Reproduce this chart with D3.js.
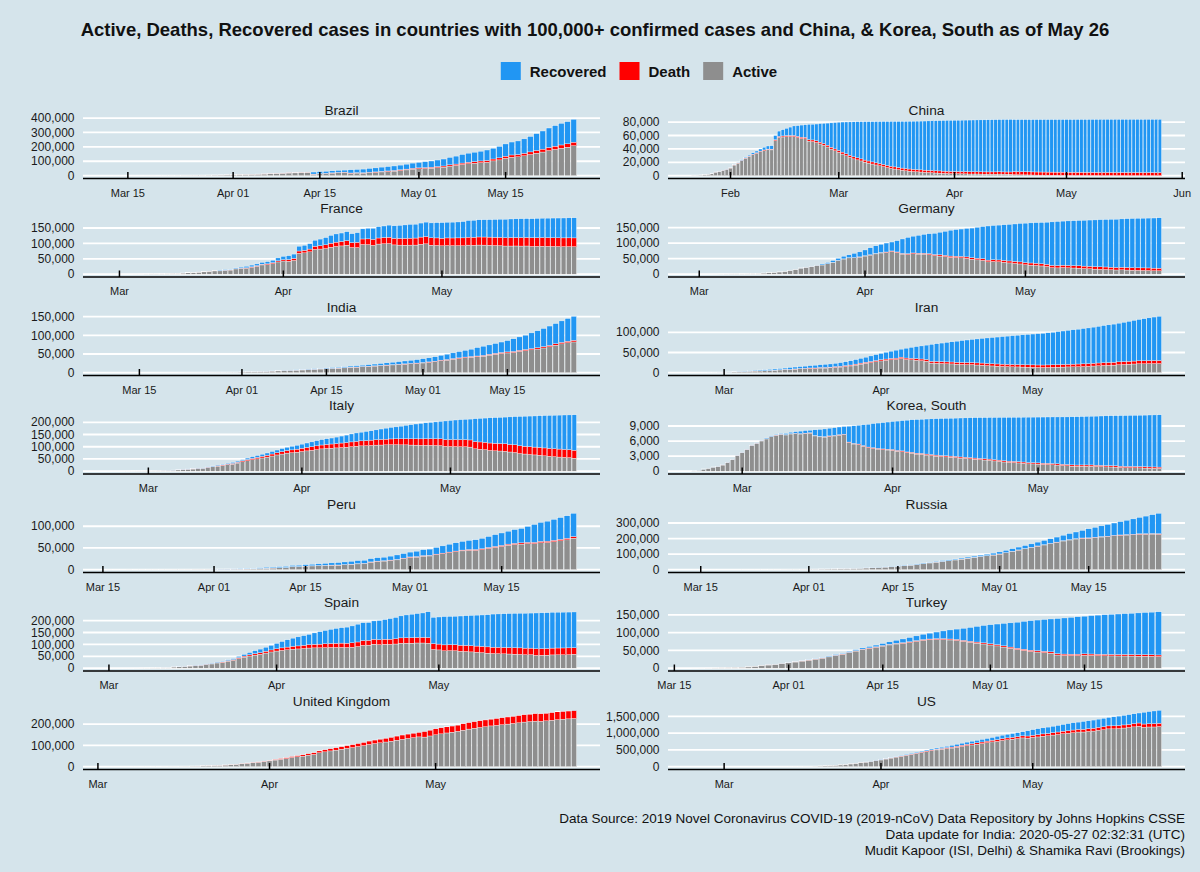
<!DOCTYPE html>
<html><head><meta charset="utf-8">
<script src="https://cdn.jsdelivr.net/npm/d3@7"></script>
<style>
html,body{margin:0;padding:0;background:#d5e4eb;}
svg{display:block;font-family:"Liberation Sans",Arial,Helvetica,sans-serif;}
</style></head><body>
<svg id="chart" width="1200" height="872"></svg>
<script>
// ---------------- DATA ----------------
const countries = ["Brazil","China","France","Germany","India","Iran","Italy","Korea, South","Peru","Russia","Spain","Turkey","United Kingdom","US"];
const lastDate = "2020-05-26";           // every series ends on this day (one value per day)
const valueUnits = [1000,1000,1000,1000,1000,1000,1000,1,1000,1000,1000,1000,1000,1000]; // values in thousands, Korea in cases
const seriesNames = ["Recovered","Death","Active"];

const brazilActive = [.05,.15,.15,.16,.2,.32,.37,.61,.78,1.0,1.5,1.9,2.2,2.5,2.9,3.3,3.8,4.1,4.4,5.5,
6.5,7.6,8.6,9.8,10.5,11.4,13.2,15.2,17.0,18.4,19.4,20.8,21.9,9.7,12.6,14.5,17.5,20.3,22.2,16.1,18.2,17.5,20.1,22.6,26.1,28.6,31.7,35.7,40.1,45.3,
47.8,49.5,51.9,55.4,59.4,66.6,71.4,77.6,82.8,86.5,90.6,93.2,102.7,109.7,120.5,128.2,131.0,138.1,147.1,156.0,164.1,174.4,182.8,190.6,197.6,208.1];
const brazilDeath = [0,0,0,0,0,.001,.003,.006,.011,.015,.025,.034,.046,.06,.08,.09,.11,.14,.16,.2,
.24,.32,.36,.45,.49,.56,.69,.82,.95,1.06,1.14,1.22,1.33,1.53,1.74,1.92,2.14,2.35,2.46,2.59,2.74,2.91,3.33,3.7,4.06,4.29,4.6,5.08,5.51,6.0,
6.41,6.75,7.05,7.37,7.92,8.59,9.19,10.02,10.66,11.12,11.65,12.4,13.15,13.99,14.82,15.63,16.12,16.85,17.98,18.86,20.05,21.05,22.01,22.67,23.47,24.51];
const brazilRecovered = [0,0,0,0,0,0,0,0,.002,.002,.002,.002,.002,.002,.006,.006,.006,.006,.006,.006,
.13,.13,.13,.13,.13,.13,.13,.13,.17,.17,.17,.17,.17,14.0,14.0,14.0,14.0,14.0,14.0,22.1,22.1,25.3,26.6,27.7,29.2,30.2,31.1,32.5,34.1,35.9,
38.0,40.9,42.9,45.8,48.2,51.4,55.2,59.3,62.6,65.1,67.4,72.6,74.3,79.5,84.97,89.7,94.0,100.5,106.8,116.7,125.96,135.4,142.6,149.9,153.8,158.6];

const chinaActive = [.5,.59,.86,1.33,1.96,2.74,5.28,5.84,7.83,9.37,
11.36,15.81,18.68,22.38,25.76,28.48,31.39,33.41,35.71,37.38,38.58,38.5,52.3,57.2,57.8,58.2,58.3,58.2,56.7,55.4,55.0,51.6,50.9,49.5,47.3,45.3,42.8,39.7,37.1,
34.8,32.3,29.8,27.3,25.1,23.6,22.0,20.2,18.8,17.4,16.0,14.8,13.6,12.1,10.8,9.9,9.0,8.1,7.3,6.7,6.2,5.8,5.4,5.0,4.7,4.4,4.0,3.8,3.5,3.3,3.1,
3.0,2.9,2.8,2.7,2.5,2.5,2.5,2.4,2.3,2.3,2.3,2.3,2.4,2.3,2.2,2.2,1.5,1.4,1.3,1.2,1.1,1.0,.9,.85,.8,.75,.7,.68,.65,.63,
.6,.56,.5,.47,.43,.4,.38,.35,.33,.3,.3,.3,.27,.25,.22,.2,.18,.16,.15,.14,.13,.12,.12,.11,.1,.1];
const chinaDeath = [.017,.018,.026,.042,.056,.082,.131,.133,.171,.213,
.259,.361,.425,.49,.562,.632,.717,.804,.904,1.011,1.111,1.116,1.368,1.381,1.524,1.666,1.772,1.87,2.006,2.121,2.239,2.348,2.445,2.595,2.666,2.718,2.747,2.791,2.838,
2.873,2.915,2.946,2.984,3.015,3.045,3.073,3.1,3.123,3.139,3.161,3.172,3.18,3.193,3.203,3.217,3.23,3.241,3.249,3.253,3.259,3.274,3.274,3.281,3.285,3.291,3.296,3.299,3.304,3.308,3.309,
3.316,3.322,3.326,3.33,3.333,3.335,3.335,3.337,3.339,3.34,3.343,3.343,3.345,3.345,3.346,3.346,4.636,4.636,4.636,4.636,4.636,4.636,4.636,4.636,4.636,4.636,4.636,4.636,4.637,4.637,
4.637,4.637,4.637,4.637,4.637,4.637,4.637,4.637,4.637,4.637,4.637,4.637,4.637,4.637,4.637,4.637,4.637,4.637,4.637,4.637,4.638,4.638,4.638,4.638,4.638,4.638];
const chinaRecovered = [.028,.03,.036,.039,.049,.058,.101,.12,.135,.214,
.275,.463,.614,.843,1.115,1.477,1.999,2.596,3.219,3.918,4.636,5.082,6.217,7.977,9.298,10.755,12.462,14.206,15.962,18.014,18.704,22.699,23.394,25.015,27.676,30.084,32.93,36.329,39.32,
42.162,44.854,47.45,50.001,52.292,53.944,55.539,57.388,58.804,60.181,61.644,62.901,64.196,65.66,67.017,67.91,68.798,69.755,70.535,71.266,71.857,72.362,72.814,73.28,73.773,74.181,74.72,75.1,75.582,75.923,76.206,
76.405,76.565,76.76,76.946,77.207,77.31,77.41,77.567,77.679,77.791,77.877,77.956,78.039,78.2,78.311,78.401,77.6,77.7,77.8,77.9,78.0,78.1,78.2,78.3,78.35,78.4,78.45,78.5,78.55,78.6,
78.65,78.7,78.75,78.8,78.85,78.9,78.95,79.0,79.05,79.1,79.12,79.15,79.2,79.23,79.26,79.28,79.3,79.32,79.33,79.34,79.35,79.36,79.37,79.38,79.39,79.4];

const franceActive = [.04,.09,
.12,.18,.19,.27,.36,.64,.94,1.1,1.19,1.75,2.23,2.23,3.59,4.4,4.43,6.52,7.55,8.87,10.59,10.72,12.31,13.36,17.06,18.24,19.32,22.15,25.7,30.06,30.86,34.18,39.79,
42.8,42.0,44.6,67.7,69.3,72.6,80.4,81.6,83.2,87.5,90.2,91.8,94.1,86.7,86.5,96.4,96.0,93.8,97.8,98.8,99.3,95.1,94.4,94.2,94.4,94.5,97.2,98.5,94.2,93.4,
92.2,93.0,92.7,92.7,92.4,94.4,93.9,94.6,94.4,94.0,93.1,92.7,91.4,91.4,91.6,91.3,91.5,90.1,90.4,90.8,90.4,90.1,89.8,89.5,89.5,89.3];
const franceDeath = [.002,.002,
.002,.003,.004,.004,.006,.009,.011,.019,.019,.033,.048,.048,.079,.091,.091,.149,.149,.244,.372,.451,.563,.676,.862,1.102,1.333,1.698,1.997,2.317,2.611,3.03,3.532,
4.04,5.39,6.51,7.57,8.09,8.92,10.34,10.89,12.21,13.2,13.83,14.39,14.97,15.73,17.17,17.92,18.68,19.32,19.72,20.27,20.8,21.34,21.86,22.25,22.61,22.86,23.29,23.66,24.09,24.38,
24.59,24.76,24.9,25.2,25.53,25.81,25.99,26.23,26.31,26.38,26.64,26.99,27.07,27.43,27.53,27.63,27.7,28.24,28.02,28.13,28.22,28.29,28.33,28.37,28.46,28.53];
const franceRecovered = [.011,.012,
.012,.012,.012,.012,.012,.012,.012,.012,.012,.012,.012,.012,.012,.012,.012,.012,.012,.012,.012,1.59,1.59,2.2,2.2,3.28,4.95,5.7,5.7,5.72,7.23,7.96,9.51,
10.93,12.55,14.14,15.57,16.35,17.43,19.34,21.45,23.41,25.2,26.66,27.47,28.81,28.96,30.95,32.81,34.42,35.98,36.6,37.41,39.18,40.66,42.09,43.49,44.59,44.9,45.51,46.89,48.23,49.48,
50.56,50.78,51.37,51.72,52.74,53.97,55.03,55.8,56.04,56.72,57.79,58.67,59.72,60.45,60.56,61.07,61.21,61.73,62.56,62.81,63.35,63.86,64.21,64.62,64.94,65.2];

const germanyActive = [.06,
.11,.14,.18,.25,.47,.65,.78,1.02,1.16,1.44,1.88,2.05,3.64,4.54,5.74,7.19,9.17,12.2,15.16,19.6,21.9,24.5,28.5,29.6,33.6,38.0,43.9,48.8,52.4,52.8,54.9,
58.3,61.3,65.3,68.2,69.8,72.9,69.5,64.6,63.2,65.5,64.6,64.5,62.6,59.7,58.3,56.5,53.9,53.4,52.5,50.7,48.0,46.0,44.3,39.6,40.9,39.9,38.3,36.2,34.6,32.9,
30.4,29.1,28.1,26.5,24.8,21.0,20.3,21.4,20.5,19.9,19.3,18.2,17.5,16.3,15.7,15.2,14.4,13.5,14.0,13.3,12.7,12.4,12.0,11.8,11.1,10.9];
const germanyDeath = [0,
0,0,0,0,0,0,0,0,.002,.002,.003,.003,.007,.009,.011,.017,.024,.028,.044,.067,.084,.094,.123,.157,.206,.267,.342,.433,.533,.645,.775,
.92,1.11,1.28,1.44,1.58,1.81,2.02,2.35,2.61,2.77,2.9,3.05,3.19,3.49,3.87,4.2,4.35,4.54,4.64,4.86,5.03,5.28,5.58,5.58,5.76,5.88,5.98,6.31,6.47,6.62,
6.74,6.86,6.94,6.99,7.09,7.27,7.39,7.51,7.55,7.57,7.66,7.74,7.86,7.88,7.94,7.97,8.0,8.01,8.09,8.14,8.2,8.23,8.26,8.28,8.31,8.37];
const germanyRecovered = [.016,
.016,.016,.016,.016,.016,.016,.016,.016,.016,.016,.016,.016,.016,.016,.046,.046,.046,.105,.113,.18,.233,.266,.453,3.24,3.55,5.67,6.66,8.48,9.21,13.5,16.1,
18.7,22.44,24.58,26.4,28.7,28.7,36.08,46.3,52.41,53.91,57.4,60.3,64.3,68.2,72.6,77.0,83.11,85.4,88.0,91.5,95.2,99.4,103.3,109.8,109.8,112.0,114.5,117.4,120.4,123.5,
126.9,129.0,130.6,132.7,135.1,139.9,141.7,141.7,143.3,144.4,145.62,147.2,148.7,150.3,151.6,152.6,154.01,155.04,155.68,156.97,158.09,159.06,159.72,160.28,161.2,161.97];

const indiaActive = [.05,.06,.07,.07,.09,.1,.1,.12,.14,.17,.22,.3,.36,.45,.48,.6,.66,.8,.89,.9,1.12,1.24,
1.8,2.3,2.3,2.78,3.2,4.3,4.79,5.2,5.9,6.6,7.2,7.9,8.9,9.8,10.4,11.2,11.9,12.9,14.2,14.7,15.9,16.7,17.6,18.7,19.6,20.8,21.6,22.6,23.7,24.6,
26.0,27.5,29.3,32.0,33.5,35.9,37.7,39.8,41.4,42.4,44.1,46.9,49.2,51.4,52.8,54.0,57.0,58.8,61.1,63.2,66.1,69.2,73.6,77.1,80.0,82.2];
const indiaDeath = [0,.001,.001,.002,.002,.002,.002,.003,.003,.004,.005,.004,.007,.01,.01,.012,.02,.02,.024,.027,.032,.035,
.058,.072,.072,.086,.099,.136,.15,.178,.226,.246,.288,.331,.358,.393,.405,.448,.486,.521,.559,.592,.645,.681,.721,.78,.825,.881,.939,1.008,1.079,1.154,
1.223,1.323,1.391,1.566,1.693,1.785,1.889,1.985,2.101,2.212,2.294,2.415,2.551,2.649,2.753,2.871,3.025,3.156,3.302,3.434,3.584,3.726,3.868,4.024,4.172,4.344];
const indiaRecovered = [.004,.004,.004,.004,.004,.013,.014,.014,.014,.015,.02,.023,.027,.027,.04,.043,.045,.073,.084,.095,.102,.123,
.14,.17,.2,.21,.29,.34,.37,.54,.6,.75,.96,.98,1.19,1.3,1.52,1.78,1.96,2.3,2.86,3.27,3.53,3.99,4.76,5.05,5.86,6.21,6.91,7.72,8.28,9.11,
10.04,10.88,11.82,12.87,14.21,15.3,16.76,17.91,19.31,22.55,24.38,24.98,26.31,27.95,30.23,33.78,35.68,38.37,42.08,45.4,48.55,51.86,53.95,57.42,60.78,64.25];

const iranActive = [.05,.08,.07,.17,.28,.43,
.75,1.14,1.97,2.28,2.67,3.71,4.01,4.24,4.53,5.02,5.69,6.69,7.89,7.53,8.62,9.55,9.79,10.52,10.38,11.47,11.42,12.02,13.31,13.96,15.32,16.72,18.82,21.21,23.28,24.83,27.05,
29.08,30.6,31.95,32.56,34.89,32.53,31.68,30.78,29.8,28.5,23.73,23.32,22.74,22.07,21.68,20.9,20.47,19.85,20.07,19.02,18.54,17.49,16.7,16.05,15.49,15.11,14.5,14.27,13.91,13.51,
13.24,12.94,12.8,12.99,13.16,13.65,13.91,14.31,14.57,14.82,15.18,15.68,16.51,17.14,17.9,18.31,18.75,19.77,20.31,20.96,21.53,22.08,22.09,22.48,22.56,22.57];
const iranDeath = [.012,.016,.019,.026,.034,.043,
.054,.066,.077,.092,.107,.124,.145,.194,.237,.291,.354,.429,.514,.611,.724,.853,.988,1.135,1.284,1.433,1.556,1.685,1.812,1.934,2.077,2.234,2.378,2.517,2.64,2.757,2.898,
3.036,3.16,3.294,3.452,3.603,3.739,3.872,3.993,4.11,4.232,4.357,4.474,4.585,4.683,4.777,4.869,4.958,5.031,5.118,5.209,5.297,5.391,5.481,5.574,5.65,5.71,5.806,5.877,5.957,6.028,
6.091,6.156,6.203,6.277,6.34,6.418,6.486,6.541,6.589,6.64,6.685,6.733,6.783,6.854,6.902,6.937,6.988,7.057,7.119,7.183,7.249,7.3,7.359,7.417,7.451,7.508];
const iranRecovered = [0,0,.049,.049,.073,.123,
.175,.291,.291,.552,.739,.913,1.669,2.134,2.394,2.731,2.959,2.959,2.959,4.59,4.59,4.59,5.389,5.71,6.745,6.745,7.635,7.931,7.931,8.913,9.625,10.457,11.133,11.679,12.391,13.911,14.656,
15.473,16.711,17.935,19.736,19.736,24.236,27.039,29.812,32.309,35.465,41.947,43.894,45.983,48.129,49.933,52.229,54.064,55.987,57.023,59.273,60.965,63.113,64.843,66.569,68.193,69.657,71.166,72.439,73.791,75.103,
76.318,77.35,78.422,79.379,80.475,81.587,82.744,83.837,85.064,86.143,87.422,88.357,89.428,90.539,91.836,93.147,94.464,95.661,97.173,98.808,100.564,102.276,104.072,105.801,107.713,109.437];

const italyActive = [.06,.15,.22,.31,.44,.59,.82,1.05,
1.58,1.84,2.26,2.71,3.3,3.92,5.06,6.39,7.99,8.79,10.59,10.59,14.96,17.75,20.6,23.07,26.06,28.71,33.19,38.55,42.68,46.64,50.42,54.03,57.52,62.01,66.41,70.07,73.88,75.53,77.64,
80.57,83.05,85.39,88.27,91.25,93.19,94.07,95.26,96.88,98.27,100.27,102.25,103.62,104.29,105.42,106.61,106.96,107.77,108.26,108.24,107.71,107.7,106.85,106.53,105.85,106.1,105.81,105.21,104.66,101.55,
100.94,100.7,100.18,99.98,98.47,91.53,89.62,87.96,84.84,83.32,82.49,81.27,78.46,76.44,72.07,70.19,68.35,66.55,65.13,62.75,60.96,59.32,57.75,56.59,55.3,52.94];
const italyDeath = [.002,.003,.007,.01,.012,.017,.021,.029,
.034,.052,.079,.107,.148,.197,.233,.366,.463,.631,.827,.827,1.266,1.441,1.809,2.158,2.503,2.978,3.405,4.032,4.825,5.476,6.077,6.82,7.503,8.215,9.134,10.023,10.779,11.591,12.428,
13.155,13.915,14.681,15.362,15.887,16.523,17.127,17.669,18.279,18.849,19.468,19.899,20.465,21.067,21.645,22.17,22.745,23.227,23.66,24.114,24.648,25.085,25.549,25.969,26.384,26.644,26.977,27.359,27.682,27.967,
28.236,28.71,28.884,29.079,29.315,29.684,29.958,30.201,30.395,30.56,30.739,30.911,31.106,31.368,31.61,31.763,31.908,32.007,32.169,32.33,32.486,32.616,32.735,32.785,32.877,32.955];
const italyRecovered = [.001,.001,.001,.001,.003,.045,.046,.046,
.083,.149,.16,.276,.414,.523,.589,.622,.724,.724,1.045,1.045,1.439,1.966,2.335,2.749,2.941,4.025,4.44,4.44,6.072,7.024,7.432,8.326,9.362,10.361,10.95,12.384,13.03,14.62,15.729,
16.847,18.278,19.758,20.996,21.815,22.837,24.392,26.491,28.47,30.455,32.534,34.211,35.435,37.13,38.092,40.164,42.727,44.927,47.055,48.877,51.6,54.543,57.576,60.498,63.12,64.928,66.624,68.941,71.252,75.945,
78.249,79.914,81.654,82.879,85.231,93.245,96.276,99.023,103.031,105.186,106.587,109.039,112.541,115.288,120.205,122.81,125.176,127.326,129.401,132.282,134.56,136.72,138.84,140.479,141.981,144.658];

const koreaActive = [87,186,415,578,807,945,1227,1731,2302,3107,
3689,4277,5128,5545,6012,6416,6862,7146,7307,7212,7407,7470,7403,7504,7577,7024,6832,6789,6934,7018,7157,7253,5684,5410,5281,4966,4665,4523,4398,4275,4216,
4155,3979,3867,3654,3591,3404,3363,3211,3102,2999,2901,2851,2786,2726,2609,2555,2468,2379,2313,2225,2169,2045,1961,1833,1761,1722,1641,1586,1456,1446,
1403,1347,1326,1266,1217,1132,1070,998,974,986,988,983,941,910,854,837,818,736,680,684,664,652,624,584,576,551];
const koreaDeath = [1,2,2,6,8,10,12,13,13,16,
17,28,28,35,35,42,44,50,53,54,60,66,66,72,75,75,81,84,91,94,102,104,111,120,126,131,139,144,152,158,162,
165,169,174,177,183,186,192,200,204,208,211,214,217,222,225,229,230,232,234,236,237,238,240,240,240,242,243,244,246,247,
248,250,250,252,254,255,256,256,256,256,256,258,259,260,260,262,262,263,263,264,264,264,266,266,267,269];
const koreaRecovered = [16,16,16,18,18,22,22,22,22,27,
30,30,30,41,41,135,135,118,118,247,288,333,510,510,510,1137,1407,1540,1540,1540,1540,1540,3166,3507,3730,4144,4528,4811,5033,5228,5408,
5567,5828,6021,6325,6463,6694,6776,6973,7117,7243,7368,7447,7534,7616,7757,7829,7937,8042,8114,8213,8277,8411,8501,8635,8717,8764,8854,8922,9059,9072,
9123,9183,9217,9283,9333,9419,9484,9568,9610,9632,9665,9695,9762,9821,9904,9938,9970,10066,10135,10162,10194,10226,10275,10340,10363,10405];

const peruActive = [.086,.116,.143,.231,.23,.312,.357,.389,.408,.47,.57,.623,.654,.833,.925,1.034,
.89,.97,1.12,1.26,1.29,1.48,1.73,2.87,3.32,3.73,4.37,4.73,6.93,6.96,8.11,8.62,9.29,9.67,10.23,10.38,11.35,12.22,13.36,13.98,17.21,18.99,19.83,21.24,22.59,25.53,
28.21,28.9,31.09,31.6,34.35,36.58,38.9,41.13,43.3,44.52,44.46,46.1,48.94,51.24,53.5,56.32,58.03,58.94,60.07,60.0,62.02,62.45,64.38,66.4,68.65,72.56];
const peruDeath = [0,.001,.002,.003,.004,.005,.005,.005,.007,.009,.009,.011,.016,.018,.024,.03,
.047,.055,.061,.073,.083,.092,.107,.121,.138,.169,.181,.193,.216,.23,.254,.274,.3,.348,.4,.445,.484,.53,.572,.634,.7,.728,.782,.854,.943,1.051,
1.124,1.2,1.286,1.344,1.444,1.533,1.627,1.714,1.814,1.889,1.961,2.057,2.169,2.267,2.392,2.523,2.648,2.789,2.914,3.024,3.148,3.244,3.373,3.456,3.629,3.788];
const peruRecovered = [0,0,0,0,.001,.001,.001,.001,.001,.001,.001,.001,.001,.001,.001,.001,
.39,.39,.41,.41,.91,.99,1.12,1.35,1.8,2.0,2.3,2.6,2.64,3.11,3.11,3.6,3.9,4.4,5.0,5.5,6.0,6.5,6.98,7.03,7.42,7.8,8.09,9.1,10.4,10.4,
11.13,12.43,13.55,14.43,15.4,16.7,18.0,19.0,19.9,20.9,22.4,23.9,25.2,27.1,28.6,29.7,31.6,33.2,36.5,41.0,43.6,46.0,48.0,50.1,51.7,53.4];

const russiaActive = [.057,.06,.085,.109,.138,.189,.24,.29,.35,.42,.47,.62,.79,.98,1.2,1.46,1.74,2.19,
2.6,3.32,3.84,4.34,4.98,5.89,6.93,8.03,9.36,10.96,12.44,14.35,16.71,19.24,22.33,25.4,29.15,33.42,39.2,43.27,48.44,53.0,57.3,62.44,67.66,73.44,79.01,84.37,89.0,93.81,
100.04,108.58,117.17,125.82,134.05,142.2,150.95,158.98,167.0,175.34,184.46,190.92,197.25,201.47,202.2,206.0,210.0,212.4,217.7,220.3,222.6,224.3,227.1,227.8,228.9,227.4];
const russiaDeath = [0,0,0,0,0,.001,.001,.001,.001,.001,.001,.003,.003,.004,.004,.008,.009,.017,
.024,.03,.034,.043,.045,.047,.058,.063,.076,.094,.106,.13,.148,.17,.198,.232,.273,.313,.361,.405,.456,.513,.555,.615,.681,.747,.794,.867,.972,1.073,
1.169,1.222,1.28,1.356,1.451,1.537,1.625,1.723,1.827,1.915,2.009,2.116,2.212,2.305,2.418,2.537,2.631,2.722,2.837,2.972,3.099,3.249,3.388,3.541,3.633,3.807];
const russiaRecovered = [.002,.003,.005,.005,.009,.009,.012,.016,.016,.017,.022,.029,.038,.049,.064,.066,.087,.121,
.19,.2,.28,.35,.36,.41,.51,.58,.7,.86,1.04,1.29,1.47,1.69,1.96,2.31,2.59,3.06,3.29,3.45,3.87,4.49,4.92,5.57,6.25,6.76,7.35,8.32,9.43,11.62,
13.22,14.25,16.24,18.09,19.87,22.19,24.59,27.16,29.85,32.43,34.87,39.2,42.81,48.47,58.22,63.5,69.12,75.56,79.4,85.44,91.85,98.9,105.39,113.14,120.9,131.13];

const spainActive = [.08,.12,.16,.22,.26,.365,.46,.63,1.01,1.63,2.04,2.04,4.91,5.68,6.99,9.07,10.19,12.21,16.03,17.78,21.87,24.26,29.47,33.28,40.5,46.41,51.22,54.97,58.6,63.46,68.2,
72.08,74.97,77.49,80.0,80.93,82.9,84.69,85.41,85.61,86.52,87.31,87.23,87.62,86.98,88.08,90.84,96.04,96.89,100.86,98.77,100.38,100.15,101.62,104.89,105.15,105.0,105.9,105.81,104.6,78.6,
76.8,73.1,73.7,73.3,71.2,70.2,68.5,66.9,65.4,63.1,61.6,61.0,60.3,59.6,58.8,57.9,56.7,56.7,53.9,54.4,54.7,55.8,56.2,56.3,56.7,58.8];
const spainDeath = [0,0,.001,.002,.003,.005,.01,.017,.028,.035,.054,.055,.133,.195,.289,.342,.533,.623,.83,1.043,1.375,1.772,2.311,2.808,3.647,4.365,5.138,5.982,6.803,7.716,8.464,
9.387,10.348,11.198,11.947,12.641,13.341,14.045,14.792,15.447,16.081,16.606,17.209,17.756,18.056,18.708,19.315,20.002,20.043,20.453,20.852,21.282,21.717,22.157,22.524,22.902,23.19,23.521,23.822,24.275,24.543,
24.543,24.824,25.1,25.264,25.428,25.613,25.857,26.07,26.299,26.478,26.621,26.744,26.92,27.104,27.321,27.459,27.563,27.563,27.709,27.778,27.888,28.628,28.678,28.752,28.752,27.117];
const spainRecovered = [.002,.002,.002,.002,.002,.03,.03,.03,.032,.032,.183,.183,.193,.517,.517,.53,1.028,1.081,1.107,1.588,2.125,2.575,3.355,3.794,5.367,7.015,9.357,12.285,14.709,16.78,19.259,
22.647,26.743,30.513,34.219,38.08,40.437,43.208,48.021,52.165,55.668,59.109,62.391,64.727,67.504,70.853,74.797,74.797,74.797,77.357,80.587,82.514,86.524,89.25,92.355,95.708,98.44,100.0,102.5,108.02,110.3,
113.86,118.68,118.7,119.44,122.67,124.49,127.04,129.93,131.9,134.82,139.18,140.26,141.48,142.8,144.08,145.34,146.44,147.34,150.38,150.38,150.38,150.38,150.38,150.38,150.38,150.38];

const turkeyActive = [.096,.188,.355,.661,1.206,1.492,1.828,2.374,3.528,5.564,7.224,8.981,10.497,13.074,
15.069,17.364,20.012,22.647,25.453,28.242,31.802,35.568,39.232,43.6,48.101,52.312,55.796,58.909,62.2,65.461,68.146,69.986,72.313,75.41,78.414,79.821,80.808,80.575,79.485,78.185,75.57,72.852,70.486,68.144,
65.326,62.78,59.497,56.032,52.686,49.958,47.096,45.484,43.896,42.18,37.041,35.866,35.551,35.537,36.269,35.834,35.333,34.845,34.521,34.378,34.309,34.113,33.776,33.793,33.43,32.858];
const turkeyDeath = [.002,.003,.004,.009,.03,.037,.044,.059,.075,.092,.108,.131,.168,.214,
.277,.356,.425,.501,.574,.649,.725,.812,.908,1.006,1.101,1.198,1.296,1.403,1.518,1.643,1.769,1.89,2.017,2.14,2.259,2.376,2.491,2.6,2.706,2.805,2.9,2.992,3.081,3.174,
3.258,3.336,3.397,3.461,3.52,3.584,3.641,3.689,3.739,3.786,3.841,3.894,3.952,4.007,4.055,4.096,4.14,4.171,4.199,4.222,4.249,4.276,4.308,4.34,4.369,4.397];
const turkeyRecovered = [0,0,0,0,0,0,0,0,.026,.042,.07,.105,.162,.243,
.333,.415,.484,.786,1.042,1.326,1.582,1.846,2.142,2.423,2.965,3.446,3.957,4.799,5.674,7.089,8.631,10.453,11.976,13.43,14.918,16.477,18.491,21.737,25.582,29.14,33.791,38.809,44.022,48.886,
53.808,58.259,63.151,68.166,73.285,78.202,82.984,86.396,89.48,92.691,98.889,101.715,103.611,105.205,106.133,108.137,109.962,111.577,112.895,113.987,114.99,116.111,117.602,118.694,120.015,121.507];

const ukActive = [.043,.078,.107,.154,.197,.263,.31,.37,.433,.433,.776,1.105,1.106,1.477,1.885,2.55,2.57,3.771,4.768,5.398,6.255,7.606,9.039,11.097,13.849,16.156,18.414,20.907,23.553,
27.373,31.112,34.943,37.98,43.358,46.759,49.643,54.228,57.744,65.433,69.79,74.235,77.871,82.364,86.237,90.03,94.796,99.446,104.71,108.95,112.43,116.13,120.09,124.71,128.83,132.88,136.8,140.2,139.25,144.55,
150.13,154.49,158.68,162.38,166.37,171.86,176.94,180.96,184.51,188.17,191.84,194.62,197.37,200.4,203.57,206.56,209.92,212.47,214.35,213.46,215.76,218.7,221.38,223.66,225.1,226.94];
const ukDeath = [0,0,.001,.002,.002,.003,.004,.006,.008,.008,.008,.021,.021,.056,.056,.072,.138,.178,.234,.282,.336,.423,.466,.58,.761,1.021,1.231,1.411,1.793,
2.357,2.926,3.611,4.32,4.943,5.385,6.171,7.111,7.993,8.974,9.892,10.629,11.347,12.129,12.894,13.759,14.607,15.498,16.095,16.55,17.378,18.151,18.791,19.567,20.381,20.794,21.18,21.787,26.842,27.583,
28.205,28.661,28.809,29.097,29.526,30.15,30.689,31.316,31.662,31.93,32.141,32.769,33.264,33.693,34.078,34.546,34.716,34.876,35.422,35.786,36.124,36.475,36.757,36.875,37.048,37.13];
const ukRecovered = [.008,.008,.008,.008,.008,.008,.008,.008,.018,.018,.018,.018,.018,.018,.018,.02,.065,.065,.065,.065,.065,.065,.065,.135,.135,.135,.135,.135,.135,
.135,.135,.135,.135,.135,.135,.135,.135,.135,.344,.344,.344,.344,.344,.344,.344,.344,.344,.344,.344,.344,.344,.344,.344,.344,.344,.344,.344,.344,.344,
.344,.344,.344,.344,.344,.344,.344,.344,.344,.344,.344,.344,.344,.344,.344,.344,.344,.344,.344,.344,.344,.344,.344,.344,.344,1.161];

const usActive = [.046,.045,.051,.052,.053,.06,
.066,.085,.104,.131,.198,.241,.378,.49,.554,.923,1.237,1.611,2.12,2.661,3.424,4.53,6.296,7.562,13.372,18.71,25.015,32.671,42.947,52.673,64.475,81.946,99.207,118.367,135.777,153.209,177.275,
199.98,227.99,255.98,285.44,309.78,336.24,362.6,390.35,419.8,449.15,474.64,500.39,521.09,543.04,555.92,578.37,604.44,628.74,648.13,669.94,691.82,716.33,739.02,754.31,783.99,804.01,820.54,838.32,858.24,852.52,
874.52,887.87,910.16,921.66,943.39,960.87,983.36,994.25,1014.55,1033.53,1034.5,1052.02,1062.89,1085.47,1104.59,1128.37,1128.8,1137.36,1153.45,1169.01,1188.15,1206.56,1175.42,1184.33,1184.88,1197.6];
const usDeath = [0,0,0,0,0,.001,
.001,.006,.007,.011,.012,.014,.017,.021,.022,.028,.036,.04,.047,.054,.063,.085,.108,.118,.2,.244,.307,.427,.552,.706,.942,1.209,1.581,2.026,2.467,2.978,3.873,
4.757,5.926,7.087,8.407,9.619,10.783,12.722,14.695,16.478,18.586,20.463,22.02,23.529,25.832,28.326,32.916,36.773,38.664,40.661,42.094,44.845,46.622,49.954,51.949,53.755,54.881,56.259,58.355,60.967,62.996,
64.943,66.369,67.682,68.922,71.064,73.455,75.662,77.18,78.795,79.526,80.682,82.356,84.119,85.898,87.53,88.754,89.562,90.347,91.921,93.439,94.702,95.979,97.087,97.72,98.223,98.916];
const usRecovered = [.005,.006,.006,.006,.007,.007,
.007,.007,.007,.007,.007,.007,.007,.007,.007,.008,.008,.012,.012,.012,.012,.017,.017,.106,.108,.147,.171,.178,.348,.361,.361,.681,.869,1.072,2.665,5.644,7.024,
8.5,9.7,12.3,14.8,17.4,19.3,21.8,23.6,26.5,28.8,31.3,32.9,36.0,38.8,52.1,56.3,58.5,64.8,70.3,72.3,75.2,77.4,80.2,99.1,100.4,106.9,111.4,115.9,120.7,153.9,
164.0,178.3,180.2,189.8,189.9,195.0,198.0,212.5,216.2,216.2,232.7,235.0,243.4,246.4,250.7,250.7,268.4,280.6,283.2,289.4,294.3,298.4,350.1,361.2,379.2,384.9];

const activeSeries = [brazilActive,chinaActive,franceActive,germanyActive,indiaActive,iranActive,italyActive,koreaActive,peruActive,russiaActive,spainActive,turkeyActive,ukActive,usActive];
const deathSeries = [brazilDeath,chinaDeath,franceDeath,germanyDeath,indiaDeath,iranDeath,italyDeath,koreaDeath,peruDeath,russiaDeath,spainDeath,turkeyDeath,ukDeath,usDeath];
const recoveredSeries = [brazilRecovered,chinaRecovered,franceRecovered,germanyRecovered,indiaRecovered,iranRecovered,italyRecovered,koreaRecovered,peruRecovered,russiaRecovered,spainRecovered,turkeyRecovered,ukRecovered,usRecovered];

// tick labels
const yTickValues = [
  [0,100000,200000,300000,400000],
  [0,20000,40000,60000,80000],
  [0,50000,100000,150000],
  [0,50000,100000,150000],
  [0,50000,100000,150000],
  [0,50000,100000],
  [0,50000,100000,150000,200000],
  [0,3000,6000,9000],
  [0,50000,100000],
  [0,100000,200000,300000],
  [0,50000,100000,150000,200000],
  [0,50000,100000,150000],
  [0,100000,200000],
  [0,500000,1000000,1500000]
];
const halfMonthTicks = ["2020-03-15","2020-04-01","2020-04-15","2020-05-01","2020-05-15"];
const monthTicks = ["2020-03-01","2020-04-01","2020-05-01"];
const chinaTicks = ["2020-02-01","2020-03-01","2020-04-01","2020-05-01","2020-06-01"];
const xTickDates = [halfMonthTicks,chinaTicks,monthTicks,monthTicks,halfMonthTicks,monthTicks,monthTicks,monthTicks,halfMonthTicks,halfMonthTicks,monthTicks,halfMonthTicks,monthTicks,monthTicks];
const xTickFormats = ["%b %d","%b","%b","%b","%b %d","%b","%b","%b","%b %d","%b %d","%b","%b %d","%b","%b"];

const titleText = "Active, Deaths, Recovered cases in countries with 100,000+ confirmed cases and China, & Korea, South as of May 26";
const footerLines = [
  "Data Source: 2019 Novel Coronavirus COVID-19 (2019-nCoV) Data Repository by Johns Hopkins CSSE",
  "Data update for India: 2020-05-27 02:32:31 (UTC)",
  "Mudit Kapoor (ISI, Delhi) & Shamika Ravi (Brookings)"
];

// ---------------- STYLE / LAYOUT ----------------
const colors = {recovered:"#2196f3", death:"#ff0000", active:"#8e8e8e"};
const bg = "#d5e4eb";
const colX = [[83,600],[668,1185]];
const firstBottom = 178.5, rowPitch = 98.5, panelH = 62;
const DAY = 864e5;
const parse = d3.utcParse("%Y-%m-%d");
const endDate = parse(lastDate);

const svg = d3.select("#chart");
svg.append("rect").attr("width",1200).attr("height",872).attr("fill",bg);

svg.append("text").attr("x",595).attr("y",36).attr("text-anchor","middle")
  .attr("font-weight","bold").attr("font-size",18.5).attr("fill","#111").text(titleText);

// legend
const legendKeys = [{name:seriesNames[0],c:colors.recovered},{name:seriesNames[1],c:colors.death},{name:seriesNames[2],c:colors.active}];
const lg = svg.append("g");
let lx = 0;
legendKeys.forEach(k=>{
  const g = lg.append("g").attr("transform",`translate(${lx},0)`);
  g.append("rect").attr("x",0).attr("y",-9).attr("width",20).attr("height",18).attr("fill",k.c);
  const t = g.append("text").attr("x",29).attr("y",5.5).attr("font-weight","bold").attr("font-size",15).attr("fill","#111").text(k.name);
  lx += 29 + t.node().getComputedTextLength() + 13;
});
lx -= 13;
lg.attr("transform",`translate(${639 - lx/2},71)`);

const fmtNum = d3.format(",");

countries.forEach((name,i)=>{
  const col = i%2, row = Math.floor(i/2);
  const [x0,x1] = colX[col];
  const bottom = firstBottom + row*rowPitch, top = bottom - panelH;
  const A = activeSeries[i], D = deathSeries[i], R = recoveredSeries[i], u = valueUnits[i];
  const n = Math.max(A.length, D.length, R.length);
  const rows = [];
  for (let k=0;k<n;k++){
    const back = n-1-k; // days before end
    const pick = arr => { const idx = arr.length-1-back; return idx>=0 ? arr[idx]*u : 0; };
    rows.push({date:new Date(endDate.getTime()-back*DAY), active:pick(A), death:pick(D), recovered:pick(R)});
  }
  const stack = d3.stack().keys(["active","death","recovered"])(rows);
  const yMax = d3.max(rows, r=>r.active+r.death+r.recovered);
  const y = d3.scaleLinear().domain([-0.05*yMax, 1.05*yMax]).range([bottom, top]);
  const lo = rows[0].date.getTime()-0.45*DAY, hi = endDate.getTime()+0.45*DAY, pad = 0.05*(hi-lo);
  const x = d3.scaleUtc().domain([new Date(lo-pad), new Date(hi+pad)]).range([x0,x1]);

  const g = svg.append("g");
  g.append("text").attr("x",(x0+x1)/2).attr("y",top-2).attr("text-anchor","middle")
    .attr("font-size",13.7).attr("fill","#1a1a1a").text(name);
  g.selectAll("line.grid").data(yTickValues[i]).join("line").attr("class","grid")
    .attr("x1",x0).attr("x2",x1).attr("y1",d=>y(d)).attr("y2",d=>y(d))
    .attr("stroke","#ffffff").attr("stroke-width",1.8);
  g.selectAll("text.ylab").data(yTickValues[i]).join("text").attr("class","ylab")
    .attr("x",x0-8.5).attr("y",d=>y(d)).attr("dy","0.35em").attr("text-anchor","end")
    .attr("font-size",12).attr("fill","#1a1a1a").text(d=>fmtNum(d));
  const colorOf = {active:colors.active, death:colors.death, recovered:colors.recovered};
  stack.forEach(layer=>{
    g.append("g").attr("fill",colorOf[layer.key]).attr("stroke","#ffffff").attr("stroke-width",0.35)
      .selectAll("rect").data(layer).join("rect")
      .attr("x",d=>x(new Date(d.data.date.getTime()-0.45*DAY)))
      .attr("width",d=>x(new Date(d.data.date.getTime()+0.45*DAY))-x(new Date(d.data.date.getTime()-0.45*DAY)))
      .attr("y",d=>y(d[1]))
      .attr("height",d=>Math.max(0,y(d[0])-y(d[1])));
  });
  g.append("line").attr("x1",x0).attr("x2",x1).attr("y1",bottom).attr("y2",bottom)
    .attr("stroke","#000").attr("stroke-width",1.6);
  const fmtDate = d3.utcFormat(xTickFormats[i]);
  const ticks = xTickDates[i].map(parse);
  g.selectAll("line.xt").data(ticks).join("line").attr("class","xt")
    .attr("x1",d=>x(d)).attr("x2",d=>x(d)).attr("y1",bottom).attr("y2",bottom-6.5)
    .attr("stroke","#000").attr("stroke-width",1.5);
  g.selectAll("text.xlab").data(ticks).join("text").attr("class","xlab")
    .attr("x",d=>x(d)).attr("y",bottom+18).attr("text-anchor","middle")
    .attr("font-size",11).attr("fill","#1a1a1a").text(d=>fmtDate(d));
});

footerLines.forEach((t,k)=>{
  svg.append("text").attr("x",1185).attr("y",823+k*16).attr("text-anchor","end")
    .attr("font-size",13.5).attr("fill","#111").text(t);
});
</script>
</body></html>
